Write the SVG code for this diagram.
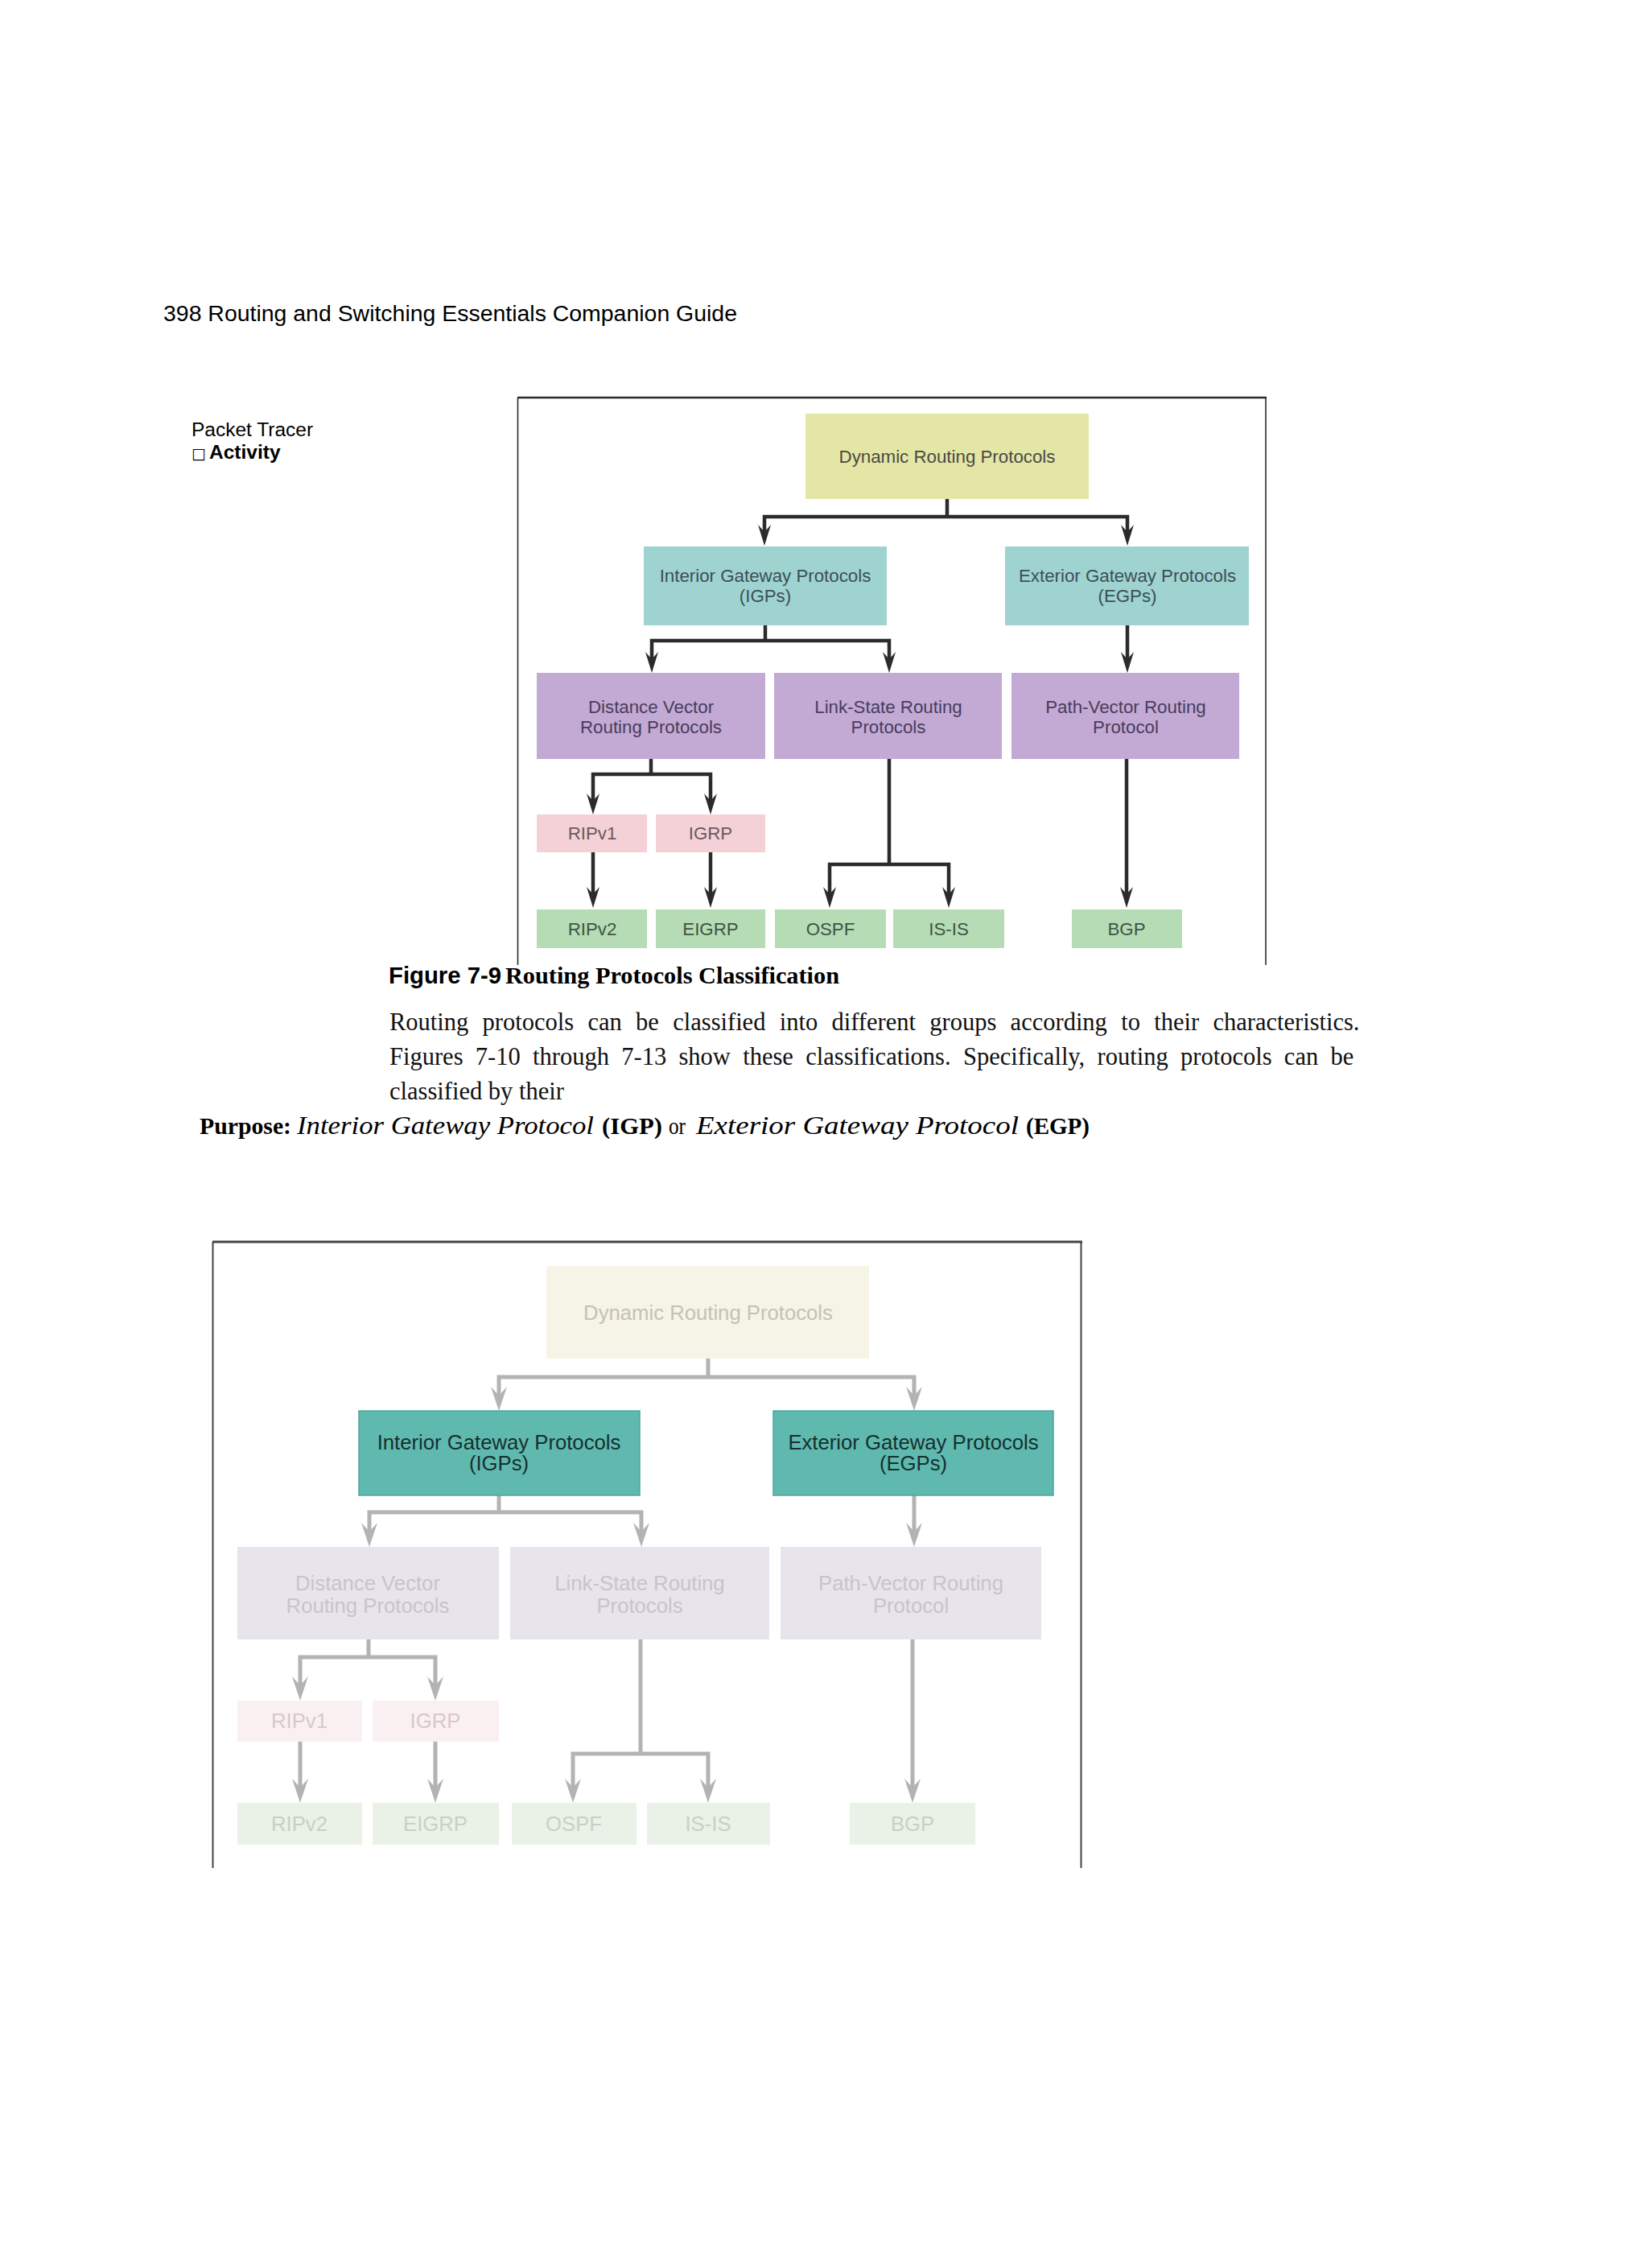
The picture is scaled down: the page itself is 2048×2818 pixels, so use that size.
<svg xmlns="http://www.w3.org/2000/svg" width="2048" height="2818" viewBox="0 0 2048 2818">
<style>
.sans{font-family:"Liberation Sans",Arial,sans-serif}
.serif{font-family:"Liberation Serif","Times New Roman",serif}
.n1{font-family:"Liberation Sans",Arial,sans-serif;font-size:22.3px;text-anchor:middle}
.n2{font-family:"Liberation Sans",Arial,sans-serif;font-size:25.7px;text-anchor:middle}
.c1{fill:none;stroke:#2b2b2b;stroke-width:4.5;stroke-linejoin:miter}
.c1a{fill:none;stroke:#2b2b2b;stroke-width:4.5;marker-end:url(#arr1)}
.c2{fill:none;stroke:#b3b3b3;stroke-width:5}
.c2a{fill:none;stroke:#b3b3b3;stroke-width:5;marker-end:url(#arr2)}
.y1{fill:#e4e6a6}.t1{fill:#9ed3d0}.p1{fill:#c2aad5}.k1{fill:#f4d0d7}.g1{fill:#b5dcb5}
.y2{fill:#f5f4e6}.t2{fill:#5fb9ae;stroke:#4ea79c;stroke-width:1.5}.p2{fill:#e8e4eb}.k2{fill:#fbf0f1}.g2{fill:#eaf1e7}
.ty1{fill:#4a4a44}.tt1{fill:#3c4f57}.tp1{fill:#4a3c5c}.tk1{fill:#6b5a5e}.tg1{fill:#3e5544}
.ty2{fill:#c4c2b3}.tt2{fill:#15302f}.tp2{fill:#c8c3cc}.tk2{fill:#d6c9c9}.tg2{fill:#c8d0c5}
</style>
<defs>
<marker id="arr1" viewBox="0 0 26 16" markerWidth="26" markerHeight="16" refX="9" refY="8" orient="auto" markerUnits="userSpaceOnUse">
<path d="M0,0 L26,8 L0,16 L9,8 Z" fill="#2b2b2b"/>
</marker>
<marker id="arr2" viewBox="0 0 30 20" markerWidth="30" markerHeight="20" refX="11" refY="10" orient="auto" markerUnits="userSpaceOnUse">
<path d="M0,0 L30,10 L0,20 L11,10 Z" fill="#b3b3b3"/>
</marker>
</defs>
<rect width="2048" height="2818" fill="#ffffff"/>

<!-- page text -->
<text class="sans" x="203" y="399" font-size="28.4" fill="#000" textLength="713" lengthAdjust="spacingAndGlyphs">398 Routing and Switching Essentials Companion Guide</text>
<text class="sans" x="238" y="542" font-size="24.5" fill="#000">Packet Tracer</text>
<text class="sans" y="570" fill="#000"><tspan x="238" font-size="19" font-family="DejaVu Sans, sans-serif">□</tspan><tspan x="260" font-size="24.5" font-weight="bold">Activity</tspan></text>

<text y="1222" fill="#000"><tspan class="sans" x="483" font-size="29.5" font-weight="bold" textLength="140" lengthAdjust="spacingAndGlyphs">Figure 7-9</tspan><tspan class="serif" x="628" font-size="29.5" font-weight="bold" textLength="415" lengthAdjust="spacingAndGlyphs">Routing Protocols Classification</tspan></text>
<text class="serif" x="484" y="1280" font-size="30.5" fill="#111" word-spacing="9.7">Routing protocols can be classified into different groups according to their characteristics.</text>
<text class="serif" x="484" y="1323" font-size="30.5" fill="#111" word-spacing="7.7">Figures 7-10 through 7-13 show these classifications. Specifically, routing protocols can be</text>
<text class="serif" x="484" y="1366" font-size="30.5" fill="#111">classified by their</text>
<text class="serif" y="1409" font-size="30" fill="#000"><tspan x="248" font-weight="bold" textLength="114" lengthAdjust="spacingAndGlyphs">Purpose:</tspan><tspan x="369" font-size="32" font-style="italic" textLength="369" lengthAdjust="spacingAndGlyphs">Interior Gateway Protocol</tspan><tspan x="748" font-weight="bold" textLength="75" lengthAdjust="spacingAndGlyphs">(IGP)</tspan><tspan x="831" textLength="21" lengthAdjust="spacingAndGlyphs">or</tspan><tspan x="865" font-size="32" font-style="italic" textLength="401" lengthAdjust="spacingAndGlyphs">Exterior Gateway Protocol</tspan><tspan x="1275" font-weight="bold" textLength="79" lengthAdjust="spacingAndGlyphs">(EGP)</tspan></text>

<!-- ===== Figure 1 ===== -->
<g id="frame1" fill="none" stroke="#2a2a2a">
<line x1="643" y1="494" x2="1574" y2="494" stroke-width="2.5"/>
<line x1="643.5" y1="494" x2="643.5" y2="1199" stroke-width="1.6"/>
<line x1="1573" y1="494" x2="1573" y2="1199" stroke-width="1.6"/>
</g>
<g id="connectors1">
<path class="c1" d="M1177,620 V642"/>
<path class="c1a" d="M1177,642 H950 V661"/>
<path class="c1a" d="M1177,642 H1401 V661"/>
<path class="c1" d="M951,777 V796"/>
<path class="c1a" d="M951,796 H810 V819"/>
<path class="c1a" d="M951,796 H1105 V819"/>
<path class="c1a" d="M1401,777 V819"/>
<path class="c1" d="M809,943 V962"/>
<path class="c1a" d="M809,962 H737 V995"/>
<path class="c1a" d="M809,962 H883 V995"/>
<path class="c1a" d="M737,1059 V1111"/>
<path class="c1a" d="M883,1059 V1111"/>
<path class="c1" d="M1105,943 V1074"/>
<path class="c1a" d="M1105,1074 H1031 V1111"/>
<path class="c1a" d="M1105,1074 H1179 V1111"/>
<path class="c1a" d="M1400,943 V1111"/>
</g>
<g id="f1-drp"><rect class="y1" x="1001" y="514" width="352" height="106"/><text class="n1 ty1" x="1177" y="575">Dynamic Routing Protocols</text></g>
<g id="f1-igp"><rect class="t1" x="800" y="679" width="302" height="98"/><text class="n1 tt1" x="951" y="723">Interior Gateway Protocols</text><text class="n1 tt1" x="951" y="748">(IGPs)</text></g>
<g id="f1-egp"><rect class="t1" x="1249" y="679" width="303" height="98"/><text class="n1 tt1" x="1401" y="723">Exterior Gateway Protocols</text><text class="n1 tt1" x="1401" y="748">(EGPs)</text></g>
<g id="f1-dv"><rect class="p1" x="667" y="836" width="284" height="107"/><text class="n1 tp1" x="809" y="886">Distance Vector</text><text class="n1 tp1" x="809" y="911">Routing Protocols</text></g>
<g id="f1-ls"><rect class="p1" x="962" y="836" width="283" height="107"/><text class="n1 tp1" x="1104" y="886">Link-State Routing</text><text class="n1 tp1" x="1104" y="911">Protocols</text></g>
<g id="f1-pv"><rect class="p1" x="1257" y="836" width="283" height="107"/><text class="n1 tp1" x="1399" y="886">Path-Vector Routing</text><text class="n1 tp1" x="1399" y="911">Protocol</text></g>
<g id="f1-ripv1"><rect class="k1" x="667" y="1012" width="137" height="47"/><text class="n1 tk1" x="736" y="1043">RIPv1</text></g>
<g id="f1-igrp"><rect class="k1" x="815" y="1012" width="136" height="47"/><text class="n1 tk1" x="883" y="1043">IGRP</text></g>
<g id="f1-ripv2"><rect class="g1" x="667" y="1130" width="137" height="48"/><text class="n1 tg1" x="736" y="1162">RIPv2</text></g>
<g id="f1-eigrp"><rect class="g1" x="815" y="1130" width="136" height="48"/><text class="n1 tg1" x="883" y="1162">EIGRP</text></g>
<g id="f1-ospf"><rect class="g1" x="963" y="1130" width="138" height="48"/><text class="n1 tg1" x="1032" y="1162">OSPF</text></g>
<g id="f1-isis"><rect class="g1" x="1110" y="1130" width="138" height="48"/><text class="n1 tg1" x="1179" y="1162">IS-IS</text></g>
<g id="f1-bgp"><rect class="g1" x="1332" y="1130" width="137" height="48"/><text class="n1 tg1" x="1400" y="1162">BGP</text></g>

<!-- ===== Figure 2 ===== -->
<g id="frame2" fill="none" stroke="#444">
<line x1="264" y1="1543" x2="1345" y2="1543" stroke-width="3"/>
<line x1="264.5" y1="1543" x2="264.5" y2="2321" stroke-width="2"/>
<line x1="1343.5" y1="1543" x2="1343.5" y2="2321" stroke-width="2"/>
</g>
<g id="connectors2">
<path class="c2" d="M880,1688 V1711"/>
<path class="c2a" d="M880,1711 H620 V1734"/>
<path class="c2a" d="M880,1711 H1136 V1734"/>
<path class="c2" d="M620,1858 V1879"/>
<path class="c2a" d="M620,1879 H459 V1903"/>
<path class="c2a" d="M620,1879 H797 V1903"/>
<path class="c2a" d="M1136,1858 V1903"/>
<path class="c2" d="M458,2037 V2059"/>
<path class="c2a" d="M458,2059 H373 V2094"/>
<path class="c2a" d="M458,2059 H541 V2094"/>
<path class="c2a" d="M373,2164 V2221"/>
<path class="c2a" d="M541,2164 V2221"/>
<path class="c2" d="M796,2037 V2179"/>
<path class="c2a" d="M796,2179 H712 V2221"/>
<path class="c2a" d="M796,2179 H880 V2221"/>
<path class="c2a" d="M1134,2037 V2221"/>
</g>
<g id="f2-drp"><rect class="y2" x="679" y="1573" width="401" height="115"/><text class="n2 ty2" x="880" y="1640">Dynamic Routing Protocols</text></g>
<g id="f2-igp"><rect class="t2" x="446" y="1753" width="349" height="105"/><text class="n2 tt2" x="620" y="1801">Interior Gateway Protocols</text><text class="n2 tt2" x="620" y="1827">(IGPs)</text></g>
<g id="f2-egp"><rect class="t2" x="961" y="1753" width="348" height="105"/><text class="n2 tt2" x="1135" y="1801">Exterior Gateway Protocols</text><text class="n2 tt2" x="1135" y="1827">(EGPs)</text></g>
<g id="f2-dv"><rect class="p2" x="295" y="1922" width="325" height="115"/><text class="n2 tp2" x="457" y="1976">Distance Vector</text><text class="n2 tp2" x="457" y="2004">Routing Protocols</text></g>
<g id="f2-ls"><rect class="p2" x="634" y="1922" width="322" height="115"/><text class="n2 tp2" x="795" y="1976">Link-State Routing</text><text class="n2 tp2" x="795" y="2004">Protocols</text></g>
<g id="f2-pv"><rect class="p2" x="970" y="1922" width="324" height="115"/><text class="n2 tp2" x="1132" y="1976">Path-Vector Routing</text><text class="n2 tp2" x="1132" y="2004">Protocol</text></g>
<g id="f2-ripv1"><rect class="k2" x="295" y="2113" width="155" height="51"/><text class="n2 tk2" x="372" y="2147">RIPv1</text></g>
<g id="f2-igrp"><rect class="k2" x="463" y="2113" width="157" height="51"/><text class="n2 tk2" x="541" y="2147">IGRP</text></g>
<g id="f2-ripv2"><rect class="g2" x="295" y="2240" width="155" height="52"/><text class="n2 tg2" x="372" y="2275">RIPv2</text></g>
<g id="f2-eigrp"><rect class="g2" x="463" y="2240" width="157" height="52"/><text class="n2 tg2" x="541" y="2275">EIGRP</text></g>
<g id="f2-ospf"><rect class="g2" x="636" y="2240" width="155" height="52"/><text class="n2 tg2" x="713" y="2275">OSPF</text></g>
<g id="f2-isis"><rect class="g2" x="804" y="2240" width="153" height="52"/><text class="n2 tg2" x="880" y="2275">IS-IS</text></g>
<g id="f2-bgp"><rect class="g2" x="1056" y="2240" width="156" height="52"/><text class="n2 tg2" x="1134" y="2275">BGP</text></g>
</svg>
